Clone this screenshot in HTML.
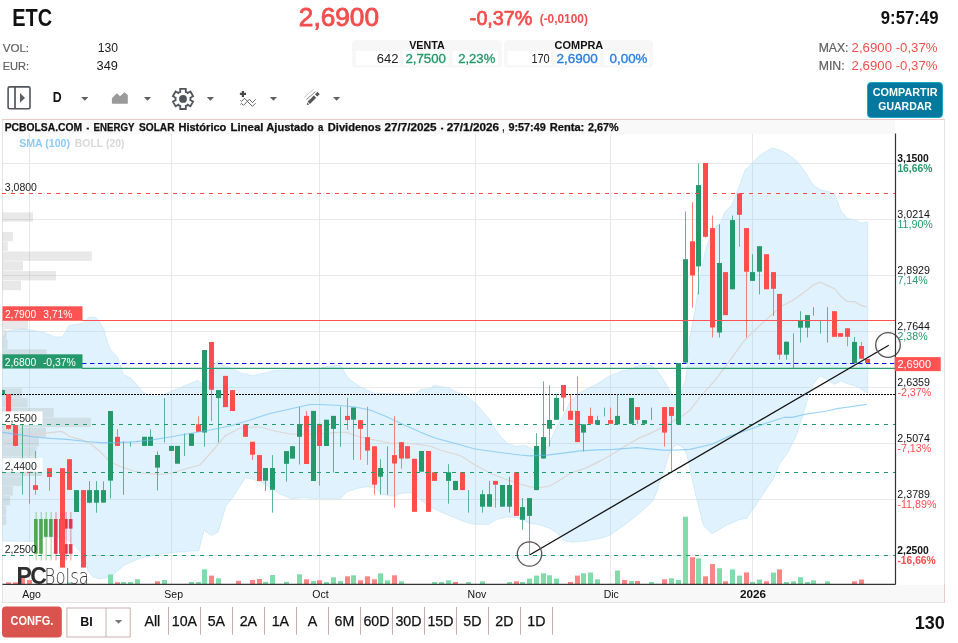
<!DOCTYPE html>
<html><head><meta charset="utf-8"><title>ETC - PCBOLSA</title>
<style>html,body{margin:0;padding:0;background:#fff;overflow:hidden;}svg{display:block;will-change:transform;}</style></head>
<body>
<svg width="958" height="643" viewBox="0 0 958 643">
<rect width="958" height="643" fill="#fff"/>
<text x="12.2" y="25.7" font-family="'Liberation Sans', Arial, sans-serif" font-size="23.2" font-weight="bold" fill="#111" textLength="39.9" lengthAdjust="spacingAndGlyphs">ETC</text>
<text x="298.8" y="25.8" font-family="'Liberation Sans', Arial, sans-serif" font-size="25" fill="#f44d4d" stroke="#f44d4d" stroke-width="0.8" textLength="80.2" lengthAdjust="spacingAndGlyphs">2,6900</text>
<text x="469.8" y="24.9" font-family="'Liberation Sans', Arial, sans-serif" font-size="21" fill="#f44d4d" stroke="#f44d4d" stroke-width="0.75" textLength="62.6" lengthAdjust="spacingAndGlyphs">-0,37%</text>
<text x="539.7" y="23.4" font-family="'Liberation Sans', Arial, sans-serif" font-size="12.3" font-weight="bold" fill="#f44d4d" textLength="48.2" lengthAdjust="spacingAndGlyphs">(-0,0100)</text>
<text x="938.5" y="23.8" font-family="'Liberation Sans', Arial, sans-serif" font-size="17.5" font-weight="bold" fill="#111" text-anchor="end" textLength="57.7" lengthAdjust="spacingAndGlyphs">9:57:49</text>
<text x="2.7" y="51.9" font-family="'Liberation Sans', Arial, sans-serif" font-size="11.8" fill="#5f5f5f" stroke="#5f5f5f" stroke-width="0.2" textLength="26.4" lengthAdjust="spacingAndGlyphs">VOL:</text>
<text x="97.7" y="51.9" font-family="'Liberation Sans', Arial, sans-serif" font-size="12" fill="#1a1a1a" textLength="20.3" lengthAdjust="spacingAndGlyphs">130</text>
<text x="2.7" y="69.9" font-family="'Liberation Sans', Arial, sans-serif" font-size="11.8" fill="#5f5f5f" stroke="#5f5f5f" stroke-width="0.2" textLength="26.4" lengthAdjust="spacingAndGlyphs">EUR:</text>
<text x="96.6" y="69.9" font-family="'Liberation Sans', Arial, sans-serif" font-size="12" fill="#1a1a1a" textLength="21.4" lengthAdjust="spacingAndGlyphs">349</text>
<text x="818.7" y="52" font-family="'Liberation Sans', Arial, sans-serif" font-size="12.6" fill="#5f5f5f" stroke="#5f5f5f" stroke-width="0.2" textLength="29.8" lengthAdjust="spacingAndGlyphs">MAX:</text>
<text x="851.6" y="52" font-family="'Liberation Sans', Arial, sans-serif" font-size="13" fill="#f44d4d" textLength="85.9" lengthAdjust="spacingAndGlyphs">2,6900 -0,37%</text>
<text x="818.7" y="70" font-family="'Liberation Sans', Arial, sans-serif" font-size="12.6" fill="#5f5f5f" stroke="#5f5f5f" stroke-width="0.2" textLength="25.9" lengthAdjust="spacingAndGlyphs">MIN:</text>
<text x="851.6" y="70" font-family="'Liberation Sans', Arial, sans-serif" font-size="13" fill="#f44d4d" textLength="85.9" lengthAdjust="spacingAndGlyphs">2,6900 -0,37%</text>
<rect x="352" y="40" width="150" height="27.6" rx="4" fill="#f7f7f7"/>
<text x="409.2" y="48.7" font-family="'Liberation Sans', Arial, sans-serif" font-size="10.5" font-weight="bold" fill="#111" textLength="35.5" lengthAdjust="spacingAndGlyphs">VENTA</text>
<rect x="355.9" y="51.2" width="44.2" height="13.8" fill="#fff"/>
<text x="376.7" y="63.4" font-family="'Liberation Sans', Arial, sans-serif" font-size="12.3" fill="#222" textLength="21.7" lengthAdjust="spacingAndGlyphs">642</text>
<rect x="403.1" y="51.2" width="45.4" height="13.8" fill="#fff"/>
<text x="405.4" y="63.4" font-family="'Liberation Sans', Arial, sans-serif" font-size="12.5" fill="#26996c" stroke="#26996c" stroke-width="0.35" textLength="40.6" lengthAdjust="spacingAndGlyphs">2,7500</text>
<rect x="452.7" y="51.2" width="45.1" height="13.8" fill="#fff"/>
<text x="458.2" y="63.4" font-family="'Liberation Sans', Arial, sans-serif" font-size="12.5" fill="#26996c" stroke="#26996c" stroke-width="0.35" textLength="37.1" lengthAdjust="spacingAndGlyphs">2,23%</text>
<rect x="504" y="40" width="149" height="27.6" rx="4" fill="#f7f7f7"/>
<text x="554.6" y="48.7" font-family="'Liberation Sans', Arial, sans-serif" font-size="10.5" font-weight="bold" fill="#111" textLength="48.7" lengthAdjust="spacingAndGlyphs">COMPRA</text>
<rect x="507.5" y="51.2" width="43.5" height="13.8" fill="#fff"/>
<text x="531.4" y="63.4" font-family="'Liberation Sans', Arial, sans-serif" font-size="12.3" fill="#222" textLength="18.3" lengthAdjust="spacingAndGlyphs">170</text>
<rect x="554.5" y="51.2" width="45.5" height="13.8" fill="#fff"/>
<text x="556.5" y="63.4" font-family="'Liberation Sans', Arial, sans-serif" font-size="12.5" fill="#2a7fe0" stroke="#2a7fe0" stroke-width="0.35" textLength="41.3" lengthAdjust="spacingAndGlyphs">2,6900</text>
<rect x="604.5" y="51.2" width="44.3" height="13.8" fill="#fff"/>
<text x="609.6" y="63.4" font-family="'Liberation Sans', Arial, sans-serif" font-size="12.5" fill="#2a7fe0" stroke="#2a7fe0" stroke-width="0.35" textLength="37.9" lengthAdjust="spacingAndGlyphs">0,00%</text>
<rect x="8.1" y="86.9" width="21.9" height="21.8" rx="1.5" fill="none" stroke="#51565d" stroke-width="1.6"/>
<line x1="15" y1="86.9" x2="15" y2="108.7" stroke="#51565d" stroke-width="1.7"/>
<polygon points="20,93 25,97.9 20,102.8" fill="#5a5f66"/>
<text x="52.7" y="101.9" font-family="'Liberation Sans', Arial, sans-serif" font-size="14.8" font-weight="bold" fill="#111" textLength="8.9" lengthAdjust="spacingAndGlyphs">D</text>
<polygon points="81.2,97 88.4,97 84.8,100.8" fill="#5f5f5f"/>
<polygon points="143.9,97 151.1,97 147.5,100.8" fill="#5f5f5f"/>
<polygon points="206.8,97 214.0,97 210.4,100.8" fill="#5f5f5f"/>
<polygon points="269.8,97 277.0,97 273.40000000000003,100.8" fill="#5f5f5f"/>
<polygon points="333,97 340.2,97 336.6,100.8" fill="#5f5f5f"/>
<polygon points="111.9,103.8 111.9,98.2 116.9,93.2 120,96.3 124.4,92.2 127.8,95 127.8,103.8" fill="#9a9a9a"/>
<polygon points="180.2,92.0 180.2,88.8 185.8,88.8 185.8,92.0 186.8,92.2 187.6,93.1 190.4,91.5 193.1,96.2 190.3,97.8 190.7,98.9 190.3,100.0 193.1,101.6 190.4,106.3 187.6,104.7 186.8,105.6 185.8,105.8 185.8,109.0 180.2,109.0 180.2,105.8 179.2,105.6 178.4,104.7 175.6,106.3 172.9,101.6 175.7,100.0 175.3,98.9 175.7,97.8 172.9,96.2 175.6,91.5 178.4,93.1 179.2,92.2" fill="none" stroke="#51565d" stroke-width="1.8" stroke-linejoin="miter"/>
<circle cx="183" cy="98.9" r="3.9" fill="#51565d"/>
<path d="M242.9,90.9 V97 M239.9,93.9 H246" stroke="#4a4a4a" stroke-width="2.2"/>
<polyline points="240.4,100.4 241.5,101.4 244.5,98.3 252.4,106.4 255.6,103.2" fill="none" stroke="#555" stroke-width="0.9"/>
<polyline points="240.4,104.4 241.5,103.4 243.5,105.4 249.4,99.2 252.4,102.6 255.6,99.3" fill="none" stroke="#555" stroke-width="0.9"/>
<line x1="308.8" y1="102.8" x2="315" y2="96.6" stroke="#555" stroke-width="3.3"/>
<line x1="316.2" y1="95.4" x2="318.6" y2="93" stroke="#555" stroke-width="3.3"/>
<polygon points="306.9,104.9 307.1,102.6 309.2,104.5" fill="#555"/>
<line x1="306.4" y1="99.6" x2="315.6" y2="91.4" stroke="#888" stroke-width="1"/>
<line x1="304.1" y1="97.5" x2="313.6" y2="89.3" stroke="#c8c8c8" stroke-width="1"/>
<rect x="867.5" y="82.5" width="75" height="35" rx="3.5" fill="#05789f" stroke="#1aa6cb" stroke-width="1"/>
<text x="905.1" y="96" font-family="'Liberation Sans', Arial, sans-serif" font-size="11" font-weight="bold" fill="#fff" text-anchor="middle" textLength="64.8" lengthAdjust="spacingAndGlyphs">COMPARTIR</text>
<text x="905.1" y="109.8" font-family="'Liberation Sans', Arial, sans-serif" font-size="11" font-weight="bold" fill="#fff" text-anchor="middle" textLength="53.6" lengthAdjust="spacingAndGlyphs">GUARDAR</text>
<rect x="2" y="606.4" width="59.8" height="31.2" rx="4" fill="#d9534f"/>
<text x="31.9" y="625" font-family="'Liberation Sans', Arial, sans-serif" font-size="12" font-weight="bold" fill="#fff" text-anchor="middle" textLength="42.7" lengthAdjust="spacingAndGlyphs">CONFG.</text>
<rect x="66.9" y="608" width="63.3" height="29" fill="#fff" stroke="#c9b0b0" stroke-width="1"/>
<line x1="106" y1="608" x2="106" y2="637" stroke="#c9b0b0" stroke-width="1"/>
<text x="86.4" y="625.9" font-family="'Liberation Sans', Arial, sans-serif" font-size="12.5" font-weight="bold" fill="#111" text-anchor="middle">BI</text>
<polygon points="114.9,620 122.2,620 118.55,623.7" fill="#777"/>
<text x="152.4" y="625.9" font-family="'Liberation Sans', Arial, sans-serif" font-size="14.2" fill="#111" stroke="#111" stroke-width="0.25" text-anchor="middle">All</text>
<line x1="168.5" y1="607" x2="168.5" y2="634.7" stroke="#c9adad" stroke-width="1"/>
<text x="184.4" y="625.9" font-family="'Liberation Sans', Arial, sans-serif" font-size="14.2" fill="#111" stroke="#111" stroke-width="0.25" text-anchor="middle">10A</text>
<line x1="200.5" y1="607" x2="200.5" y2="634.7" stroke="#c9adad" stroke-width="1"/>
<text x="216.4" y="625.9" font-family="'Liberation Sans', Arial, sans-serif" font-size="14.2" fill="#111" stroke="#111" stroke-width="0.25" text-anchor="middle">5A</text>
<line x1="232.5" y1="607" x2="232.5" y2="634.7" stroke="#c9adad" stroke-width="1"/>
<text x="248.4" y="625.9" font-family="'Liberation Sans', Arial, sans-serif" font-size="14.2" fill="#111" stroke="#111" stroke-width="0.25" text-anchor="middle">2A</text>
<line x1="264.5" y1="607" x2="264.5" y2="634.7" stroke="#c9adad" stroke-width="1"/>
<text x="280.4" y="625.9" font-family="'Liberation Sans', Arial, sans-serif" font-size="14.2" fill="#111" stroke="#111" stroke-width="0.25" text-anchor="middle">1A</text>
<line x1="296.5" y1="607" x2="296.5" y2="634.7" stroke="#c9adad" stroke-width="1"/>
<text x="312.4" y="625.9" font-family="'Liberation Sans', Arial, sans-serif" font-size="14.2" fill="#111" stroke="#111" stroke-width="0.25" text-anchor="middle">A</text>
<line x1="328.5" y1="607" x2="328.5" y2="634.7" stroke="#c9adad" stroke-width="1"/>
<text x="344.4" y="625.9" font-family="'Liberation Sans', Arial, sans-serif" font-size="14.2" fill="#111" stroke="#111" stroke-width="0.25" text-anchor="middle">6M</text>
<line x1="360.5" y1="607" x2="360.5" y2="634.7" stroke="#c9adad" stroke-width="1"/>
<text x="376.4" y="625.9" font-family="'Liberation Sans', Arial, sans-serif" font-size="14.2" fill="#111" stroke="#111" stroke-width="0.25" text-anchor="middle">60D</text>
<line x1="392.5" y1="607" x2="392.5" y2="634.7" stroke="#c9adad" stroke-width="1"/>
<text x="408.4" y="625.9" font-family="'Liberation Sans', Arial, sans-serif" font-size="14.2" fill="#111" stroke="#111" stroke-width="0.25" text-anchor="middle">30D</text>
<line x1="424.5" y1="607" x2="424.5" y2="634.7" stroke="#c9adad" stroke-width="1"/>
<text x="440.4" y="625.9" font-family="'Liberation Sans', Arial, sans-serif" font-size="14.2" fill="#111" stroke="#111" stroke-width="0.25" text-anchor="middle">15D</text>
<line x1="456.5" y1="607" x2="456.5" y2="634.7" stroke="#c9adad" stroke-width="1"/>
<text x="472.4" y="625.9" font-family="'Liberation Sans', Arial, sans-serif" font-size="14.2" fill="#111" stroke="#111" stroke-width="0.25" text-anchor="middle">5D</text>
<line x1="488.5" y1="607" x2="488.5" y2="634.7" stroke="#c9adad" stroke-width="1"/>
<text x="504.4" y="625.9" font-family="'Liberation Sans', Arial, sans-serif" font-size="14.2" fill="#111" stroke="#111" stroke-width="0.25" text-anchor="middle">2D</text>
<line x1="520.5" y1="607" x2="520.5" y2="634.7" stroke="#c9adad" stroke-width="1"/>
<text x="536.4" y="625.9" font-family="'Liberation Sans', Arial, sans-serif" font-size="14.2" fill="#111" stroke="#111" stroke-width="0.25" text-anchor="middle">1D</text>
<line x1="552.5" y1="607" x2="552.5" y2="634.7" stroke="#c9adad" stroke-width="1"/>
<text x="944.7" y="629" font-family="'Liberation Sans', Arial, sans-serif" font-size="18" font-weight="bold" fill="#111" text-anchor="end">130</text>
<rect x="2.5" y="119.5" width="942" height="483" fill="#fff" stroke="#e3e3e3" stroke-width="1"/>
<path d="M2.5,134 V119.5 H944.5 M2.5,584.5 V602.5 M944.5,584.5 V602.5" fill="none" stroke="#ecc9c9" stroke-width="1"/>
<rect x="2.5" y="120" width="892.5" height="14" fill="#f9f9f9"/>
<rect x="2.5" y="585" width="941.5" height="17" fill="#f8f8f8"/>
<line x1="2.5" y1="163.5" x2="895" y2="163.5" stroke="#e8e8e8" stroke-width="1"/>
<line x1="2.5" y1="219.5" x2="895" y2="219.5" stroke="#e8e8e8" stroke-width="1"/>
<line x1="2.5" y1="275.5" x2="895" y2="275.5" stroke="#e8e8e8" stroke-width="1"/>
<line x1="2.5" y1="331.5" x2="895" y2="331.5" stroke="#e8e8e8" stroke-width="1"/>
<line x1="2.5" y1="387.5" x2="895" y2="387.5" stroke="#e8e8e8" stroke-width="1"/>
<line x1="2.5" y1="443.5" x2="895" y2="443.5" stroke="#e8e8e8" stroke-width="1"/>
<line x1="2.5" y1="499.5" x2="895" y2="499.5" stroke="#e8e8e8" stroke-width="1"/>
<line x1="2.5" y1="555.5" x2="895" y2="555.5" stroke="#e8e8e8" stroke-width="1"/>
<line x1="29.5" y1="134" x2="29.5" y2="584" stroke="#e8e8e8" stroke-width="1"/>
<line x1="171.5" y1="134" x2="171.5" y2="584" stroke="#e8e8e8" stroke-width="1"/>
<line x1="319.5" y1="134" x2="319.5" y2="584" stroke="#e8e8e8" stroke-width="1"/>
<line x1="475.5" y1="134" x2="475.5" y2="584" stroke="#e8e8e8" stroke-width="1"/>
<line x1="610.5" y1="134" x2="610.5" y2="584" stroke="#e8e8e8" stroke-width="1"/>
<line x1="752.5" y1="134" x2="752.5" y2="584" stroke="#e8e8e8" stroke-width="1"/>
<polygon points="2.5,339.0 6.9,331.3 12.5,330.1 22.6,329.1 35.1,330.7 43.9,332.6 55.1,337.0 62.7,337.0 68.9,325.7 75.2,324.4 83.3,323.5 89.0,316.9 95.9,317.5 99.0,321.3 104.0,328.8 105.1,335.0 110.2,349.6 117.5,356.9 123.4,374.5 130.7,378.1 136.5,384.7 143.9,392.7 149.7,395.7 157.0,396.4 164.3,394.2 171.6,391.3 181.9,386.9 198.0,380.3 202.3,384.7 209.0,372.0 213.0,365.2 218.4,360.6 224.3,365.7 230.6,367.7 241.7,373.4 252.6,375.6 263.4,373.4 274.3,370.7 301.4,369.3 320.4,368.0 330.0,366.0 339.9,365.4 342.5,368.6 345.7,374.8 350.9,380.6 361.3,387.4 373.8,393.1 387.4,393.8 403.1,394.1 415.6,393.8 420.8,389.4 429.9,388.6 434.1,385.4 439.8,386.5 449.2,388.0 455.5,391.7 463.8,394.3 470.1,399.0 476.4,404.2 482.6,411.5 489.3,419.1 495.6,430.0 501.8,437.8 508.0,444.0 515.8,446.3 525.1,445.5 531.3,448.6 534.4,451.8 541.0,450.0 548.4,446.3 553.1,434.6 557.8,425.3 564.0,414.4 570.2,402.0 579.5,392.7 588.9,388.0 598.2,383.3 607.5,377.1 616.5,373.2 624.1,370.5 631.8,369.2 637.2,366.1 642.6,365.2 650.3,365.6 655.7,368.8 660.1,374.8 664.4,381.3 668.8,389.0 672.0,394.4 675.3,396.6 678.5,395.0 681.8,390.1 685.1,381.3 686.7,372.6 687.5,361.8 688.3,350.9 689.4,340.0 695.1,310.1 700.1,276.7 705.1,251.7 707.0,245.0 713.5,228.5 720.1,223.5 725.1,211.8 731.8,205.1 738.5,188.4 745.2,170.0 751.9,163.4 760.2,155.0 771.9,148.0 780.0,150.3 787.5,154.0 794.9,159.6 800.5,165.2 806.1,173.6 813.6,185.7 821.1,190.0 829.5,191.9 834.1,194.1 836.9,199.7 840.7,210.9 847.2,218.4 854.7,219.9 861.2,223.1 867.7,222.1 867.8,393.1 864.4,391.4 859.3,387.6 854.1,385.4 847.3,383.6 840.5,380.7 834.5,384.2 830.2,381.9 825.0,378.5 820.8,375.9 816.5,379.4 813.1,384.5 810.5,391.4 807.9,398.2 802.8,415.3 796.0,435.9 789.1,450.0 786.7,454.0 779.2,464.3 773.6,478.3 766.1,489.5 758.7,500.7 753.1,509.1 746.5,518.4 740.0,519.3 725.9,525.5 712.0,533.8 703.5,525.5 695.0,491.9 689.5,466.7 687.0,455.1 683.6,448.4 677.8,444.3 673.6,446.8 668.6,455.1 663.6,472.5 660.2,480.0 656.9,491.7 653.5,500.0 646.9,506.7 635.2,516.7 621.8,526.8 610.1,535.1 600.1,538.4 585.1,541.0 571.7,542.1 563.4,540.1 556.7,532.6 550.0,528.4 538.3,524.3 530.0,523.4 516.9,517.6 506.8,516.8 496.8,519.3 488.5,524.3 475.1,524.3 466.8,522.6 450.1,515.9 433.4,508.4 421.7,500.9 416.7,495.9 410.0,492.5 400.3,493.4 395.2,495.9 390.2,495.9 381.9,494.2 375.2,487.5 366.9,486.7 356.8,488.4 346.8,491.7 340.2,498.7 316.8,498.7 305.0,497.5 291.7,498.7 280.0,494.1 267.1,485.6 259.3,481.7 253.1,479.0 245.3,477.8 231.3,499.5 225.9,505.8 218.1,532.2 211.1,535.3 204.1,530.0 198.7,550.6 190.0,551.0 173.7,552.4 157.4,554.6 141.1,557.8 124.8,564.6 114.0,574.1 106.0,577.9 99.6,578.7 92.9,577.0 87.8,570.3 86.2,562.0 81.1,552.7 75.0,546.0 66.0,538.4 53.0,536.8 43.0,537.2 33.0,541.3 2.5,541.0" fill="rgb(131,203,247)" fill-opacity="0.25" stroke="#cce6f8" stroke-width="0.8"/>
<rect x="2.5" y="212.4" width="30.5" height="9.3" fill="rgba(150,150,150,0.22)"/>
<rect x="2.5" y="232.0" width="10.4" height="9.3" fill="rgba(150,150,150,0.22)"/>
<rect x="2.5" y="241.7" width="5.3" height="9.3" fill="rgba(150,150,150,0.22)"/>
<rect x="2.5" y="251.5" width="89.3" height="9.3" fill="rgba(150,150,150,0.22)"/>
<rect x="2.5" y="261.3" width="20.5" height="9.3" fill="rgba(150,150,150,0.22)"/>
<rect x="2.5" y="271.1" width="53.5" height="9.3" fill="rgba(150,150,150,0.22)"/>
<rect x="2.5" y="280.9" width="18.5" height="9.3" fill="rgba(150,150,150,0.22)"/>
<rect x="2.5" y="320.0" width="25.5" height="9.3" fill="rgba(150,150,150,0.22)"/>
<rect x="2.5" y="329.8" width="4.0" height="9.3" fill="rgba(150,150,150,0.22)"/>
<rect x="2.5" y="339.5" width="5.0" height="9.3" fill="rgba(150,150,150,0.22)"/>
<rect x="2.5" y="349.3" width="44.1" height="9.3" fill="rgba(150,150,150,0.22)"/>
<rect x="2.5" y="359.1" width="44.1" height="9.3" fill="rgba(150,150,150,0.22)"/>
<rect x="2.5" y="388.4" width="19.3" height="9.3" fill="rgba(150,150,150,0.22)"/>
<rect x="2.5" y="398.2" width="25.2" height="9.3" fill="rgba(150,150,150,0.22)"/>
<rect x="2.5" y="408.0" width="51.2" height="9.3" fill="rgba(150,150,150,0.22)"/>
<rect x="2.5" y="417.8" width="88.5" height="9.3" fill="rgba(150,150,150,0.22)"/>
<rect x="2.5" y="427.6" width="43.4" height="9.3" fill="rgba(150,150,150,0.22)"/>
<rect x="2.5" y="437.3" width="36.4" height="9.3" fill="rgba(150,150,150,0.22)"/>
<rect x="2.5" y="447.1" width="34.0" height="9.3" fill="rgba(150,150,150,0.22)"/>
<rect x="2.5" y="456.9" width="34.0" height="9.3" fill="rgba(150,150,150,0.22)"/>
<rect x="2.5" y="466.7" width="39.5" height="9.3" fill="rgba(150,150,150,0.22)"/>
<rect x="2.5" y="476.5" width="19.3" height="9.3" fill="rgba(150,150,150,0.22)"/>
<rect x="2.5" y="486.2" width="10.3" height="9.3" fill="rgba(150,150,150,0.22)"/>
<rect x="2.5" y="496.0" width="7.6" height="9.3" fill="rgba(150,150,150,0.22)"/>
<rect x="2.5" y="505.8" width="3.7" height="9.3" fill="rgba(150,150,150,0.22)"/>
<rect x="2.5" y="515.6" width="3.7" height="9.3" fill="rgba(150,150,150,0.22)"/>
<polyline points="2.5,444.0 16.7,437.1 33.4,434.3 50.1,432.6 61.8,431.4 70.1,436.8 80.1,439.3 90.2,443.5 100.2,451.8 110.2,461.8 120.2,466.5 133.6,471.0 145.3,473.5 160.0,474.3 170.0,473.5 185.0,469.0 200.0,465.0 215.0,448.0 225.0,436.0 240.0,428.0 260.0,427.0 270.0,430.0 290.0,434.0 310.0,434.5 330.0,433.0 345.0,432.0 360.0,437.0 375.0,440.0 390.0,443.0 410.0,443.5 430.0,446.0 440.0,450.0 455.0,454.0 462.0,456.5 475.0,465.0 490.0,473.0 505.0,479.0 520.0,484.0 530.0,486.8 540.0,487.6 550.0,486.0 560.0,480.1 570.1,473.5 586.8,467.6 600.1,460.9 613.5,453.4 626.8,445.1 638.5,438.4 650.2,433.4 660.2,428.4 671.9,421.7 683.6,415.0 690.0,410.0 701.8,395.1 715.1,380.1 730.2,360.1 744.0,341.0 755.0,330.0 766.6,319.4 781.4,306.1 791.7,301.0 803.5,292.8 813.8,284.7 820.5,282.2 827.1,285.4 834.5,288.7 840.4,295.8 847.1,301.4 854.5,301.7 861.1,305.4 867.0,307.3" fill="none" stroke="#ddd6d4" stroke-width="1.2"/>
<rect x="6" y="582.3" width="5" height="1.7" fill="#fa8585"/>
<rect x="13" y="582.3" width="5" height="1.7" fill="#fa8585"/>
<rect x="20" y="577.5" width="5" height="6.5" fill="#fa8585"/>
<rect x="27" y="580.0" width="5" height="4.0" fill="#fa8585"/>
<rect x="67" y="582.5" width="5" height="1.5" fill="#80dcab"/>
<rect x="108" y="574.5" width="5" height="9.5" fill="#80dcab"/>
<rect x="115" y="582.3" width="5" height="1.7" fill="#fa8585"/>
<rect x="121" y="582.0" width="5" height="2.0" fill="#80dcab"/>
<rect x="128" y="582.0" width="5" height="2.0" fill="#80dcab"/>
<rect x="135" y="579.3" width="5" height="4.7" fill="#80dcab"/>
<rect x="155" y="581.3" width="5" height="2.7" fill="#fa8585"/>
<rect x="162" y="580.0" width="5" height="4.0" fill="#80dcab"/>
<rect x="189" y="582.0" width="5" height="2.0" fill="#80dcab"/>
<rect x="196" y="582.0" width="5" height="2.0" fill="#80dcab"/>
<rect x="202" y="569.3" width="5" height="14.7" fill="#80dcab"/>
<rect x="209" y="575.6" width="5" height="8.4" fill="#fa8585"/>
<rect x="216" y="578.3" width="5" height="5.7" fill="#80dcab"/>
<rect x="236" y="580.8" width="5" height="3.2" fill="#fa8585"/>
<rect x="250" y="580.0" width="5" height="4.0" fill="#fa8585"/>
<rect x="257" y="579.0" width="5" height="5.0" fill="#fa8585"/>
<rect x="263" y="581.8" width="5" height="2.2" fill="#80dcab"/>
<rect x="270" y="575.0" width="5" height="9.0" fill="#80dcab"/>
<rect x="284" y="581.8" width="5" height="2.2" fill="#80dcab"/>
<rect x="297" y="574.3" width="5" height="9.7" fill="#80dcab"/>
<rect x="304" y="579.3" width="5" height="4.7" fill="#fa8585"/>
<rect x="311" y="581.0" width="5" height="3.0" fill="#80dcab"/>
<rect x="317" y="580.3" width="5" height="3.7" fill="#fa8585"/>
<rect x="324" y="582.0" width="5" height="2.0" fill="#80dcab"/>
<rect x="331" y="577.3" width="5" height="6.7" fill="#80dcab"/>
<rect x="338" y="581.0" width="5" height="3.0" fill="#80dcab"/>
<rect x="345" y="576.3" width="5" height="7.7" fill="#fa8585"/>
<rect x="351" y="575.3" width="5" height="8.7" fill="#80dcab"/>
<rect x="358" y="580.3" width="5" height="3.7" fill="#fa8585"/>
<rect x="365" y="576.3" width="5" height="7.7" fill="#fa8585"/>
<rect x="372" y="579.3" width="5" height="4.7" fill="#fa8585"/>
<rect x="378" y="573.3" width="5" height="10.7" fill="#80dcab"/>
<rect x="385" y="580.3" width="5" height="3.7" fill="#80dcab"/>
<rect x="392" y="575.3" width="5" height="8.7" fill="#fa8585"/>
<rect x="399" y="581.3" width="5" height="2.7" fill="#80dcab"/>
<rect x="432" y="582.0" width="5" height="2.0" fill="#80dcab"/>
<rect x="439" y="582.0" width="5" height="2.0" fill="#80dcab"/>
<rect x="446" y="580.3" width="5" height="3.7" fill="#80dcab"/>
<rect x="453" y="582.0" width="5" height="2.0" fill="#fa8585"/>
<rect x="466" y="582.0" width="5" height="2.0" fill="#80dcab"/>
<rect x="480" y="581.3" width="5" height="2.7" fill="#80dcab"/>
<rect x="507" y="582.0" width="5" height="2.0" fill="#80dcab"/>
<rect x="514" y="581.3" width="5" height="2.7" fill="#fa8585"/>
<rect x="520" y="582.0" width="5" height="2.0" fill="#80dcab"/>
<rect x="527" y="578.6" width="5" height="5.4" fill="#80dcab"/>
<rect x="534" y="575.6" width="5" height="8.4" fill="#80dcab"/>
<rect x="541" y="573.3" width="5" height="10.7" fill="#80dcab"/>
<rect x="547" y="575.3" width="5" height="8.7" fill="#80dcab"/>
<rect x="554" y="578.6" width="5" height="5.4" fill="#80dcab"/>
<rect x="568" y="582.0" width="5" height="2.0" fill="#fa8585"/>
<rect x="575" y="575.6" width="5" height="8.4" fill="#fa8585"/>
<rect x="581" y="573.3" width="5" height="10.7" fill="#80dcab"/>
<rect x="588" y="572.5" width="5" height="11.5" fill="#80dcab"/>
<rect x="595" y="579.3" width="5" height="4.7" fill="#80dcab"/>
<rect x="615" y="570.5" width="5" height="13.5" fill="#80dcab"/>
<rect x="622" y="580.0" width="5" height="4.0" fill="#fa8585"/>
<rect x="629" y="581.0" width="5" height="3.0" fill="#80dcab"/>
<rect x="635" y="581.0" width="5" height="3.0" fill="#fa8585"/>
<rect x="649" y="582.0" width="5" height="2.0" fill="#80dcab"/>
<rect x="662" y="579.3" width="5" height="4.7" fill="#fa8585"/>
<rect x="669" y="578.3" width="5" height="5.7" fill="#80dcab"/>
<rect x="676" y="580.0" width="5" height="4.0" fill="#80dcab"/>
<rect x="683" y="516.7" width="5" height="67.3" fill="#80dcab"/>
<rect x="690" y="557.2" width="5" height="26.8" fill="#fa8585"/>
<rect x="696" y="558.4" width="5" height="25.6" fill="#80dcab"/>
<rect x="703" y="576.3" width="5" height="7.7" fill="#fa8585"/>
<rect x="710" y="564.1" width="5" height="19.9" fill="#fa8585"/>
<rect x="717" y="568.2" width="5" height="15.8" fill="#80dcab"/>
<rect x="723" y="581.3" width="5" height="2.7" fill="#fa8585"/>
<rect x="730" y="569.4" width="5" height="14.6" fill="#80dcab"/>
<rect x="737" y="575.6" width="5" height="8.4" fill="#80dcab"/>
<rect x="744" y="572.4" width="5" height="11.6" fill="#fa8585"/>
<rect x="750" y="582.0" width="5" height="2.0" fill="#80dcab"/>
<rect x="757" y="579.5" width="5" height="4.5" fill="#80dcab"/>
<rect x="764" y="581.3" width="5" height="2.7" fill="#fa8585"/>
<rect x="771" y="572.6" width="5" height="11.4" fill="#80dcab"/>
<rect x="777" y="569.4" width="5" height="14.6" fill="#fa8585"/>
<rect x="784" y="582.0" width="5" height="2.0" fill="#80dcab"/>
<rect x="791" y="581.3" width="5" height="2.7" fill="#80dcab"/>
<rect x="798" y="577.2" width="5" height="6.8" fill="#80dcab"/>
<rect x="805" y="582.0" width="5" height="2.0" fill="#80dcab"/>
<rect x="811" y="580.4" width="5" height="3.6" fill="#80dcab"/>
<rect x="825" y="581.3" width="5" height="2.7" fill="#80dcab"/>
<rect x="852" y="581.3" width="5" height="2.7" fill="#fa8585"/>
<rect x="859" y="579.5" width="5" height="4.5" fill="#fa8585"/>
<line x1="82" y1="363.5" x2="895" y2="363.5" stroke="#0808f8" stroke-width="1.15" stroke-dasharray="4.5 3.5"/>
<line x1="2" y1="394.5" x2="895" y2="394.5" stroke="#000" stroke-width="1.2" stroke-dasharray="2 1"/>
<rect x="2.5" y="542" width="40" height="13.6" fill="#fff"/>
<rect x="35.7" y="512" width="0.8" height="48.4" fill="#3a9d3a" opacity="0.6"/>
<rect x="34.0" y="519" width="3.7" height="34.8" fill="#3a9d3a" opacity="0.85"/>
<rect x="40.8" y="512" width="0.8" height="48.4" fill="#3a9d3a" opacity="0.6"/>
<rect x="39.1" y="519" width="3.7" height="34.8" fill="#3a9d3a" opacity="0.85"/>
<rect x="45.7" y="512" width="0.8" height="48.4" fill="#3a9d3a" opacity="0.6"/>
<rect x="44.0" y="519" width="3.7" height="17.8" fill="#3a9d3a" opacity="0.85"/>
<rect x="50.7" y="512" width="0.8" height="48.4" fill="#3a9d3a" opacity="0.6"/>
<rect x="49.0" y="519" width="3.7" height="17.8" fill="#3a9d3a" opacity="0.85"/>
<rect x="55.6" y="512" width="0.8" height="48.4" fill="#dc1f3c" opacity="0.6"/>
<rect x="53.9" y="519" width="3.7" height="34.8" fill="#dc1f3c" opacity="0.85"/>
<rect x="60.8" y="512" width="0.8" height="48.4" fill="#dc1f3c" opacity="0.6"/>
<rect x="59.1" y="519" width="3.7" height="34.8" fill="#dc1f3c" opacity="0.85"/>
<rect x="65.7" y="512" width="0.8" height="48.4" fill="#dc1f3c" opacity="0.6"/>
<rect x="64.0" y="519" width="3.7" height="9.6" fill="#dc1f3c" opacity="0.85"/>
<rect x="64.0" y="544.1" width="3.7" height="9.7" fill="#dc1f3c" opacity="0.85"/>
<rect x="70.5" y="512" width="0.8" height="48.4" fill="#dc1f3c" opacity="0.6"/>
<rect x="68.8" y="519" width="3.7" height="9.6" fill="#dc1f3c" opacity="0.85"/>
<rect x="68.8" y="544.1" width="3.7" height="9.7" fill="#dc1f3c" opacity="0.85"/>
<text x="16.5" y="583.5" font-family="'Liberation Sans', Arial, sans-serif" font-size="23" font-weight="bold" fill="#2e2e2e" letter-spacing="-1.5">PC</text>
<text x="44.5" y="583.5" font-family="DejaVu Sans, sans-serif" font-size="22" font-weight="200" fill="#3a3a3a" textLength="44.5" lengthAdjust="spacingAndGlyphs">Bolsa</text>
<rect x="2" y="390.0" width="1" height="4.2" fill="#26996c" fill-opacity="0.72"/>
<rect x="2.5" y="390.0" width="2.5" height="4.2" fill="#26996c"/>
<rect x="8" y="394.2" width="1" height="35.3" fill="#ff4d4d" fill-opacity="0.72"/>
<rect x="6" y="394.2" width="5" height="34.6" fill="#ff4d4d"/>
<rect x="15" y="425.1" width="1" height="21.2" fill="#ff4d4d" fill-opacity="0.72"/>
<rect x="13" y="425.1" width="5" height="20.9" fill="#ff4d4d"/>
<rect x="22" y="420.0" width="1" height="74.5" fill="#26996c" fill-opacity="0.72"/>
<rect x="20" y="420.0" width="5" height="4.0" fill="#26996c"/>
<rect x="29" y="466.0" width="1" height="37.7" fill="#ff4d4d" fill-opacity="0.72"/>
<rect x="27" y="466.0" width="5" height="7.0" fill="#ff4d4d"/>
<rect x="35" y="451.0" width="1" height="43.8" fill="#ff4d4d" fill-opacity="0.72"/>
<rect x="33" y="485.1" width="5" height="4.8" fill="#ff4d4d"/>
<rect x="49" y="468.2" width="1" height="22.5" fill="#ff4d4d" fill-opacity="0.72"/>
<rect x="47" y="468.2" width="5" height="8.8" fill="#ff4d4d"/>
<rect x="62" y="468.2" width="1" height="99.3" fill="#ff4d4d" fill-opacity="0.72"/>
<rect x="60" y="468.2" width="5" height="99.3" fill="#ff4d4d"/>
<rect x="69" y="459.2" width="1" height="30.7" fill="#ff4d4d" fill-opacity="0.72"/>
<rect x="67" y="459.2" width="5" height="30.7" fill="#ff4d4d"/>
<rect x="76" y="490.1" width="1" height="21.9" fill="#26996c" fill-opacity="0.72"/>
<rect x="74" y="490.1" width="5" height="21.9" fill="#26996c"/>
<rect x="83" y="490.1" width="1" height="77.4" fill="#ff4d4d" fill-opacity="0.72"/>
<rect x="81" y="490.1" width="5" height="77.4" fill="#ff4d4d"/>
<rect x="89" y="481.1" width="1" height="22.2" fill="#26996c" fill-opacity="0.72"/>
<rect x="87" y="490.1" width="5" height="12.6" fill="#26996c"/>
<rect x="96" y="481.1" width="1" height="31.6" fill="#26996c" fill-opacity="0.72"/>
<rect x="94" y="490.1" width="5" height="12.6" fill="#26996c"/>
<rect x="103" y="481.4" width="1" height="21.2" fill="#26996c" fill-opacity="0.72"/>
<rect x="101" y="490.1" width="5" height="12.5" fill="#26996c"/>
<rect x="110" y="411.0" width="1" height="87.5" fill="#26996c" fill-opacity="0.72"/>
<rect x="108" y="411.0" width="5" height="69.6" fill="#26996c"/>
<rect x="117" y="429.2" width="1" height="16.7" fill="#ff4d4d" fill-opacity="0.72"/>
<rect x="115" y="436.8" width="5" height="9.1" fill="#ff4d4d"/>
<rect x="123" y="441.2" width="1" height="53.6" fill="#26996c" fill-opacity="0.72"/>
<rect x="130" y="441.7" width="1" height="5.0" fill="#26996c" fill-opacity="0.72"/>
<rect x="137" y="441.0" width="1" height="1.0" fill="#26996c" fill-opacity="0.72"/>
<rect x="144" y="436.8" width="1" height="9.1" fill="#26996c" fill-opacity="0.72"/>
<rect x="142" y="436.8" width="5" height="9.1" fill="#26996c"/>
<rect x="150" y="429.3" width="1" height="16.6" fill="#26996c" fill-opacity="0.72"/>
<rect x="148" y="436.8" width="5" height="9.1" fill="#26996c"/>
<rect x="157" y="451.4" width="1" height="39.0" fill="#26996c" fill-opacity="0.72"/>
<rect x="155" y="455.0" width="5" height="12.6" fill="#26996c"/>
<rect x="164" y="398.0" width="1" height="44.5" fill="#26996c" fill-opacity="0.72"/>
<rect x="171" y="445.9" width="1" height="5.0" fill="#26996c" fill-opacity="0.72"/>
<rect x="169" y="445.9" width="5" height="5.0" fill="#26996c"/>
<rect x="177" y="445.9" width="1" height="17.8" fill="#26996c" fill-opacity="0.72"/>
<rect x="175" y="445.9" width="5" height="17.8" fill="#26996c"/>
<rect x="184" y="433.5" width="1" height="22.4" fill="#26996c" fill-opacity="0.72"/>
<rect x="191" y="433.5" width="1" height="12.4" fill="#26996c" fill-opacity="0.72"/>
<rect x="189" y="433.5" width="5" height="12.4" fill="#26996c"/>
<rect x="198" y="416.3" width="1" height="15.5" fill="#ff4d4d" fill-opacity="0.72"/>
<rect x="196" y="424.3" width="5" height="7.5" fill="#ff4d4d"/>
<rect x="204" y="350.0" width="1" height="96.7" fill="#26996c" fill-opacity="0.72"/>
<rect x="202" y="350.0" width="5" height="82.5" fill="#26996c"/>
<rect x="211" y="342.0" width="1" height="79.0" fill="#ff4d4d" fill-opacity="0.72"/>
<rect x="209" y="342.0" width="5" height="47.8" fill="#ff4d4d"/>
<rect x="218" y="390.1" width="1" height="52.4" fill="#26996c" fill-opacity="0.72"/>
<rect x="216" y="390.1" width="5" height="8.0" fill="#26996c"/>
<rect x="225" y="375.9" width="1" height="31.2" fill="#ff4d4d" fill-opacity="0.72"/>
<rect x="223" y="375.9" width="5" height="31.2" fill="#ff4d4d"/>
<rect x="232" y="390.1" width="1" height="20.9" fill="#ff4d4d" fill-opacity="0.72"/>
<rect x="230" y="390.1" width="5" height="20.9" fill="#ff4d4d"/>
<rect x="245" y="424.3" width="1" height="12.5" fill="#ff4d4d" fill-opacity="0.72"/>
<rect x="243" y="424.3" width="5" height="12.5" fill="#ff4d4d"/>
<rect x="252" y="441.8" width="1" height="18.2" fill="#ff4d4d" fill-opacity="0.72"/>
<rect x="250" y="441.8" width="5" height="12.9" fill="#ff4d4d"/>
<rect x="259" y="455.1" width="1" height="25.9" fill="#ff4d4d" fill-opacity="0.72"/>
<rect x="257" y="455.1" width="5" height="25.9" fill="#ff4d4d"/>
<rect x="265" y="468.0" width="1" height="22.9" fill="#26996c" fill-opacity="0.72"/>
<rect x="263" y="468.0" width="5" height="12.7" fill="#26996c"/>
<rect x="272" y="455.1" width="1" height="57.5" fill="#26996c" fill-opacity="0.72"/>
<rect x="270" y="468.0" width="5" height="21.8" fill="#26996c"/>
<rect x="286" y="451.1" width="1" height="30.6" fill="#26996c" fill-opacity="0.72"/>
<rect x="284" y="451.1" width="5" height="12.7" fill="#26996c"/>
<rect x="292" y="446.2" width="1" height="12.4" fill="#26996c" fill-opacity="0.72"/>
<rect x="290" y="446.2" width="5" height="12.4" fill="#26996c"/>
<rect x="299" y="406.8" width="1" height="57.7" fill="#26996c" fill-opacity="0.72"/>
<rect x="297" y="424.0" width="5" height="12.8" fill="#26996c"/>
<rect x="306" y="410.9" width="1" height="53.1" fill="#ff4d4d" fill-opacity="0.72"/>
<rect x="304" y="415.9" width="5" height="48.1" fill="#ff4d4d"/>
<rect x="313" y="410.9" width="1" height="70.1" fill="#26996c" fill-opacity="0.72"/>
<rect x="311" y="410.9" width="5" height="70.1" fill="#26996c"/>
<rect x="319" y="423.9" width="1" height="61.8" fill="#ff4d4d" fill-opacity="0.72"/>
<rect x="317" y="423.9" width="5" height="22.1" fill="#ff4d4d"/>
<rect x="326" y="419.7" width="1" height="26.3" fill="#26996c" fill-opacity="0.72"/>
<rect x="324" y="419.7" width="5" height="26.3" fill="#26996c"/>
<rect x="333" y="415.9" width="1" height="56.7" fill="#26996c" fill-opacity="0.72"/>
<rect x="331" y="415.9" width="5" height="13.0" fill="#26996c"/>
<rect x="340" y="406.7" width="1" height="40.1" fill="#26996c" fill-opacity="0.72"/>
<rect x="347" y="398.0" width="1" height="31.7" fill="#ff4d4d" fill-opacity="0.72"/>
<rect x="345" y="415.9" width="5" height="4.2" fill="#ff4d4d"/>
<rect x="353" y="407.5" width="1" height="52.3" fill="#26996c" fill-opacity="0.72"/>
<rect x="351" y="407.5" width="5" height="12.2" fill="#26996c"/>
<rect x="360" y="420.1" width="1" height="39.7" fill="#ff4d4d" fill-opacity="0.72"/>
<rect x="358" y="420.1" width="5" height="8.8" fill="#ff4d4d"/>
<rect x="367" y="406.7" width="1" height="58.1" fill="#ff4d4d" fill-opacity="0.72"/>
<rect x="365" y="437.1" width="5" height="13.5" fill="#ff4d4d"/>
<rect x="374" y="446.3" width="1" height="48.4" fill="#ff4d4d" fill-opacity="0.72"/>
<rect x="372" y="446.3" width="5" height="38.4" fill="#ff4d4d"/>
<rect x="380" y="459.3" width="1" height="35.4" fill="#26996c" fill-opacity="0.72"/>
<rect x="378" y="468.0" width="5" height="8.7" fill="#26996c"/>
<rect x="387" y="446.3" width="1" height="48.4" fill="#26996c" fill-opacity="0.72"/>
<rect x="394" y="415.9" width="1" height="91.7" fill="#ff4d4d" fill-opacity="0.72"/>
<rect x="392" y="455.1" width="5" height="8.4" fill="#ff4d4d"/>
<rect x="401" y="442.1" width="1" height="26.4" fill="#ff4d4d" fill-opacity="0.72"/>
<rect x="399" y="442.1" width="5" height="16.4" fill="#ff4d4d"/>
<rect x="407" y="446.2" width="1" height="12.3" fill="#ff4d4d" fill-opacity="0.72"/>
<rect x="405" y="446.2" width="5" height="12.3" fill="#ff4d4d"/>
<rect x="414" y="458.8" width="1" height="53.0" fill="#ff4d4d" fill-opacity="0.72"/>
<rect x="412" y="458.8" width="5" height="53.0" fill="#ff4d4d"/>
<rect x="421" y="451.0" width="1" height="20.7" fill="#26996c" fill-opacity="0.72"/>
<rect x="419" y="451.0" width="5" height="20.7" fill="#26996c"/>
<rect x="428" y="451.0" width="1" height="60.8" fill="#ff4d4d" fill-opacity="0.72"/>
<rect x="426" y="451.0" width="5" height="60.8" fill="#ff4d4d"/>
<rect x="434" y="472.3" width="1" height="8.6" fill="#ff4d4d" fill-opacity="0.72"/>
<rect x="432" y="472.3" width="5" height="8.6" fill="#ff4d4d"/>
<rect x="448" y="464.2" width="1" height="39.5" fill="#26996c" fill-opacity="0.72"/>
<rect x="446" y="472.3" width="5" height="8.6" fill="#26996c"/>
<rect x="455" y="480.9" width="1" height="9.2" fill="#26996c" fill-opacity="0.72"/>
<rect x="453" y="480.9" width="5" height="9.2" fill="#26996c"/>
<rect x="462" y="472.3" width="1" height="17.8" fill="#ff4d4d" fill-opacity="0.72"/>
<rect x="460" y="472.3" width="5" height="17.8" fill="#ff4d4d"/>
<rect x="468" y="490.1" width="1" height="22.5" fill="#26996c" fill-opacity="0.72"/>
<rect x="482" y="490.1" width="1" height="22.5" fill="#26996c" fill-opacity="0.72"/>
<rect x="480" y="494.2" width="5" height="12.5" fill="#26996c"/>
<rect x="489" y="480.9" width="1" height="25.8" fill="#26996c" fill-opacity="0.72"/>
<rect x="487" y="494.2" width="5" height="12.5" fill="#26996c"/>
<rect x="495" y="480.9" width="1" height="26.7" fill="#ff4d4d" fill-opacity="0.72"/>
<rect x="493" y="480.9" width="5" height="3.8" fill="#ff4d4d"/>
<rect x="502" y="485.0" width="1" height="21.7" fill="#26996c" fill-opacity="0.72"/>
<rect x="500" y="485.0" width="5" height="21.7" fill="#26996c"/>
<rect x="509" y="476.7" width="1" height="35.9" fill="#26996c" fill-opacity="0.72"/>
<rect x="507" y="485.0" width="5" height="21.7" fill="#26996c"/>
<rect x="516" y="472.3" width="1" height="43.6" fill="#ff4d4d" fill-opacity="0.72"/>
<rect x="514" y="472.3" width="5" height="43.6" fill="#ff4d4d"/>
<rect x="522" y="498.1" width="1" height="31.7" fill="#26996c" fill-opacity="0.72"/>
<rect x="520" y="507.1" width="5" height="12.7" fill="#26996c"/>
<rect x="529" y="498.1" width="1" height="57.1" fill="#26996c" fill-opacity="0.72"/>
<rect x="527" y="498.1" width="5" height="17.8" fill="#26996c"/>
<rect x="536" y="433.1" width="1" height="57.0" fill="#26996c" fill-opacity="0.72"/>
<rect x="534" y="446.0" width="5" height="44.1" fill="#26996c"/>
<rect x="543" y="381.4" width="1" height="77.1" fill="#26996c" fill-opacity="0.72"/>
<rect x="541" y="437.1" width="5" height="21.4" fill="#26996c"/>
<rect x="549" y="385.4" width="1" height="61.1" fill="#26996c" fill-opacity="0.72"/>
<rect x="547" y="420.0" width="5" height="8.8" fill="#26996c"/>
<rect x="556" y="394.5" width="1" height="25.3" fill="#26996c" fill-opacity="0.72"/>
<rect x="554" y="398.0" width="5" height="21.8" fill="#26996c"/>
<rect x="563" y="385.0" width="1" height="26.4" fill="#ff4d4d" fill-opacity="0.72"/>
<rect x="561" y="385.0" width="5" height="12.6" fill="#ff4d4d"/>
<rect x="570" y="394.2" width="1" height="25.6" fill="#ff4d4d" fill-opacity="0.72"/>
<rect x="568" y="410.9" width="5" height="8.9" fill="#ff4d4d"/>
<rect x="577" y="376.4" width="1" height="65.7" fill="#ff4d4d" fill-opacity="0.72"/>
<rect x="575" y="410.9" width="5" height="31.2" fill="#ff4d4d"/>
<rect x="583" y="424.3" width="1" height="27.2" fill="#26996c" fill-opacity="0.72"/>
<rect x="581" y="424.3" width="5" height="8.3" fill="#26996c"/>
<rect x="590" y="407.6" width="1" height="16.2" fill="#ff4d4d" fill-opacity="0.72"/>
<rect x="588" y="415.9" width="5" height="7.9" fill="#ff4d4d"/>
<rect x="597" y="415.9" width="1" height="8.4" fill="#26996c" fill-opacity="0.72"/>
<rect x="595" y="420.1" width="5" height="4.2" fill="#26996c"/>
<rect x="604" y="407.6" width="1" height="8.8" fill="#26996c" fill-opacity="0.72"/>
<rect x="610" y="407.6" width="1" height="16.2" fill="#ff4d4d" fill-opacity="0.72"/>
<rect x="608" y="420.1" width="5" height="3.7" fill="#ff4d4d"/>
<rect x="617" y="394.2" width="1" height="30.1" fill="#26996c" fill-opacity="0.72"/>
<rect x="615" y="415.9" width="5" height="8.4" fill="#26996c"/>
<rect x="631" y="398.0" width="1" height="25.8" fill="#26996c" fill-opacity="0.72"/>
<rect x="629" y="398.0" width="5" height="25.8" fill="#26996c"/>
<rect x="637" y="407.1" width="1" height="17.2" fill="#ff4d4d" fill-opacity="0.72"/>
<rect x="635" y="407.1" width="5" height="12.7" fill="#ff4d4d"/>
<rect x="644" y="420.1" width="1" height="3.7" fill="#26996c" fill-opacity="0.72"/>
<rect x="642" y="420.1" width="5" height="3.7" fill="#26996c"/>
<rect x="651" y="407.6" width="1" height="12.5" fill="#26996c" fill-opacity="0.72"/>
<rect x="664" y="407.1" width="1" height="39.4" fill="#ff4d4d" fill-opacity="0.72"/>
<rect x="662" y="407.1" width="5" height="25.5" fill="#ff4d4d"/>
<rect x="671" y="407.1" width="1" height="63.9" fill="#ff4d4d" fill-opacity="0.72"/>
<rect x="669" y="407.1" width="5" height="8.8" fill="#ff4d4d"/>
<rect x="678" y="363.1" width="1" height="61.2" fill="#26996c" fill-opacity="0.72"/>
<rect x="676" y="363.1" width="5" height="61.2" fill="#26996c"/>
<rect x="685" y="211.5" width="1" height="151.1" fill="#26996c" fill-opacity="0.72"/>
<rect x="683" y="259.2" width="5" height="103.4" fill="#26996c"/>
<rect x="692" y="202.1" width="1" height="105.5" fill="#ff4d4d" fill-opacity="0.72"/>
<rect x="690" y="241.3" width="5" height="34.1" fill="#ff4d4d"/>
<rect x="698" y="163.4" width="1" height="130.9" fill="#26996c" fill-opacity="0.72"/>
<rect x="696" y="185.1" width="5" height="81.3" fill="#26996c"/>
<rect x="705" y="163.0" width="1" height="74.7" fill="#ff4d4d" fill-opacity="0.72"/>
<rect x="703" y="163.0" width="5" height="73.8" fill="#ff4d4d"/>
<rect x="712" y="215.5" width="1" height="122.0" fill="#ff4d4d" fill-opacity="0.72"/>
<rect x="710" y="228.1" width="5" height="99.4" fill="#ff4d4d"/>
<rect x="719" y="224.3" width="1" height="113.2" fill="#26996c" fill-opacity="0.72"/>
<rect x="717" y="263.0" width="5" height="69.5" fill="#26996c"/>
<rect x="725" y="272.1" width="1" height="43.0" fill="#ff4d4d" fill-opacity="0.72"/>
<rect x="723" y="272.1" width="5" height="43.0" fill="#ff4d4d"/>
<rect x="732" y="215.5" width="1" height="73.8" fill="#26996c" fill-opacity="0.72"/>
<rect x="730" y="220.1" width="5" height="69.2" fill="#26996c"/>
<rect x="739" y="193.4" width="1" height="53.3" fill="#ff4d4d" fill-opacity="0.72"/>
<rect x="737" y="193.4" width="5" height="21.4" fill="#ff4d4d"/>
<rect x="746" y="228.1" width="1" height="109.4" fill="#ff4d4d" fill-opacity="0.72"/>
<rect x="744" y="228.1" width="5" height="43.6" fill="#ff4d4d"/>
<rect x="752" y="254.2" width="1" height="26.7" fill="#26996c" fill-opacity="0.72"/>
<rect x="750" y="272.1" width="5" height="8.8" fill="#26996c"/>
<rect x="759" y="246.2" width="1" height="48.1" fill="#26996c" fill-opacity="0.72"/>
<rect x="757" y="246.2" width="5" height="25.5" fill="#26996c"/>
<rect x="766" y="254.2" width="1" height="35.1" fill="#ff4d4d" fill-opacity="0.72"/>
<rect x="764" y="254.2" width="5" height="35.1" fill="#ff4d4d"/>
<rect x="773" y="272.1" width="1" height="43.9" fill="#ff4d4d" fill-opacity="0.72"/>
<rect x="771" y="272.1" width="5" height="16.7" fill="#ff4d4d"/>
<rect x="779" y="293.9" width="1" height="65.8" fill="#ff4d4d" fill-opacity="0.72"/>
<rect x="777" y="293.9" width="5" height="60.8" fill="#ff4d4d"/>
<rect x="786" y="341.7" width="1" height="18.0" fill="#26996c" fill-opacity="0.72"/>
<rect x="784" y="341.7" width="5" height="13.0" fill="#26996c"/>
<rect x="793" y="333.4" width="1" height="34.7" fill="#26996c" fill-opacity="0.72"/>
<rect x="800" y="311.2" width="1" height="31.4" fill="#26996c" fill-opacity="0.72"/>
<rect x="798" y="320.5" width="5" height="7.2" fill="#26996c"/>
<rect x="807" y="315.1" width="1" height="22.4" fill="#26996c" fill-opacity="0.72"/>
<rect x="805" y="315.1" width="5" height="12.6" fill="#26996c"/>
<rect x="813" y="307.2" width="1" height="8.4" fill="#26996c" fill-opacity="0.72"/>
<rect x="820" y="320.7" width="1" height="12.9" fill="#26996c" fill-opacity="0.72"/>
<rect x="827" y="307.2" width="1" height="35.4" fill="#26996c" fill-opacity="0.72"/>
<rect x="834" y="311.2" width="1" height="25.6" fill="#ff4d4d" fill-opacity="0.72"/>
<rect x="832" y="311.2" width="5" height="25.6" fill="#ff4d4d"/>
<rect x="840" y="333.1" width="1" height="3.7" fill="#ff4d4d" fill-opacity="0.72"/>
<rect x="838" y="333.1" width="5" height="3.7" fill="#ff4d4d"/>
<rect x="847" y="328.3" width="1" height="18.0" fill="#ff4d4d" fill-opacity="0.72"/>
<rect x="845" y="328.3" width="5" height="8.5" fill="#ff4d4d"/>
<rect x="854" y="337.0" width="1" height="26.1" fill="#26996c" fill-opacity="0.72"/>
<rect x="852" y="341.9" width="5" height="21.2" fill="#26996c"/>
<rect x="861" y="341.9" width="1" height="16.8" fill="#ff4d4d" fill-opacity="0.72"/>
<rect x="859" y="346.0" width="5" height="12.7" fill="#ff4d4d"/>
<rect x="867" y="359.0" width="1" height="3.8" fill="#ff4d4d" fill-opacity="0.72"/>
<rect x="865" y="359.0" width="5" height="3.8" fill="#ff4d4d"/>
<text x="4.8" y="190.5" font-family="'Liberation Sans', Arial, sans-serif" font-size="10.5" fill="#222">3,0800</text>
<rect x="2.5" y="306.3" width="80" height="14.5" fill="#ff5252"/>
<text x="4.9" y="317.6" font-family="'Liberation Sans', Arial, sans-serif" font-size="10.6" fill="#fff" textLength="31.3" lengthAdjust="spacingAndGlyphs">2,7900</text>
<text x="43.3" y="317.6" font-family="'Liberation Sans', Arial, sans-serif" font-size="10.6" fill="#fff" textLength="29.1" lengthAdjust="spacingAndGlyphs">3,71%</text>
<rect x="2.5" y="354.3" width="80" height="14.2" fill="#26996c"/>
<text x="4.8" y="365.5" font-family="'Liberation Sans', Arial, sans-serif" font-size="10.6" fill="#fff" textLength="31.4" lengthAdjust="spacingAndGlyphs">2,6800</text>
<text x="42.9" y="365.5" font-family="'Liberation Sans', Arial, sans-serif" font-size="10.6" fill="#fff" textLength="33" lengthAdjust="spacingAndGlyphs">-0,37%</text>
<rect x="2.5" y="411.4" width="40" height="13.6" fill="#fff"/>
<text x="4.7" y="421.6" font-family="'Liberation Sans', Arial, sans-serif" font-size="10.5" fill="#222">2,5500</text>
<rect x="2.5" y="458.2" width="40" height="13.6" fill="#fff"/>
<text x="4.7" y="469.7" font-family="'Liberation Sans', Arial, sans-serif" font-size="10.5" fill="#222">2,4400</text>
<text x="4.7" y="553" font-family="'Liberation Sans', Arial, sans-serif" font-size="10.5" fill="#222">2,2500</text>
<polyline points="2.5,432.3 16.7,434.3 33.4,436.8 50.1,438.4 66.8,439.3 86.8,441.5 100.2,442.6 116.9,442.6 133.6,441.8 150.3,440.1 170.0,437.0 190.0,433.5 210.0,430.0 230.0,426.0 250.0,420.0 270.0,413.5 290.0,409.0 310.0,404.5 320.0,404.5 340.0,405.5 355.0,407.0 370.0,410.0 385.0,416.0 400.0,423.0 420.0,432.0 435.0,438.0 450.0,442.0 475.0,449.0 500.0,452.5 520.0,455.0 530.0,455.9 546.7,455.1 563.4,453.1 580.1,450.9 596.8,449.8 613.5,449.3 636.9,447.7 646.9,448.7 663.6,450.1 675.2,450.1 690.0,449.3 711.9,444.3 730.0,435.9 752.4,428.5 767.3,422.7 784.7,417.3 792.2,417.3 804.6,414.3 827.0,411.0 837.0,408.6 866.8,404.3" fill="none" stroke="rgb(100,188,242)" stroke-opacity="0.62" stroke-width="1.2"/>
<line x1="2" y1="193.5" x2="895" y2="193.5" stroke="#ff4a4a" stroke-width="1.1" stroke-dasharray="4 5"/>
<line x1="82" y1="320.5" x2="895" y2="320.5" stroke="#ff5252" stroke-width="1"/>
<line x1="82" y1="368.3" x2="895" y2="368.3" stroke="#2a9d6f" stroke-width="1.2"/>
<line x1="2" y1="424.5" x2="895" y2="424.5" stroke="#1f9a6a" stroke-width="1.1" stroke-dasharray="4 5"/>
<line x1="2" y1="472.5" x2="895" y2="472.5" stroke="#1f9a6a" stroke-width="1.1" stroke-dasharray="4 5"/>
<line x1="2" y1="555.5" x2="895" y2="555.5" stroke="#1f9a6a" stroke-width="1.1" stroke-dasharray="4 5"/>
<line x1="530" y1="554.7" x2="888.8" y2="345.2" stroke="#111" stroke-width="1.3"/>
<circle cx="529.5" cy="554" r="12.2" fill="none" stroke="#555" stroke-width="1.3"/>
<circle cx="888" cy="345" r="12.3" fill="none" stroke="#555" stroke-width="1.3"/>
<line x1="895.5" y1="133.5" x2="895.5" y2="584.5" stroke="#333" stroke-width="1.2"/>
<line x1="2.5" y1="584.3" x2="895.5" y2="584.3" stroke="#333" stroke-width="1.3"/>
<text x="897.3" y="161.8" font-family="'Liberation Sans', Arial, sans-serif" font-size="10.3" font-weight="bold" fill="#111">3,1500</text>
<text x="897.4" y="171.7" font-family="'Liberation Sans', Arial, sans-serif" font-size="10.3" font-weight="bold" fill="#26996c">16,66%</text>
<text x="897.3" y="217.8" font-family="'Liberation Sans', Arial, sans-serif" font-size="10.7" fill="#111">3,0214</text>
<text x="897.4" y="227.7" font-family="'Liberation Sans', Arial, sans-serif" font-size="10.7" fill="#26996c">11,90%</text>
<text x="897.3" y="273.8" font-family="'Liberation Sans', Arial, sans-serif" font-size="10.7" fill="#111">2,8929</text>
<text x="897.4" y="283.7" font-family="'Liberation Sans', Arial, sans-serif" font-size="10.7" fill="#26996c">7,14%</text>
<text x="897.3" y="329.8" font-family="'Liberation Sans', Arial, sans-serif" font-size="10.7" fill="#111">2,7644</text>
<text x="897.4" y="339.7" font-family="'Liberation Sans', Arial, sans-serif" font-size="10.7" fill="#26996c">2,38%</text>
<text x="897.3" y="385.8" font-family="'Liberation Sans', Arial, sans-serif" font-size="10.7" fill="#111">2,6359</text>
<text x="897.4" y="395.7" font-family="'Liberation Sans', Arial, sans-serif" font-size="10.7" fill="#ff4d4d">-2,37%</text>
<text x="897.3" y="441.8" font-family="'Liberation Sans', Arial, sans-serif" font-size="10.7" fill="#111">2,5074</text>
<text x="897.4" y="451.7" font-family="'Liberation Sans', Arial, sans-serif" font-size="10.7" fill="#ff4d4d">-7,13%</text>
<text x="897.3" y="497.8" font-family="'Liberation Sans', Arial, sans-serif" font-size="10.7" fill="#111">2,3789</text>
<text x="897.4" y="507.7" font-family="'Liberation Sans', Arial, sans-serif" font-size="10.7" fill="#ff4d4d">-11,89%</text>
<text x="897.3" y="553.8" font-family="'Liberation Sans', Arial, sans-serif" font-size="10.3" font-weight="bold" fill="#111">2,2500</text>
<text x="897.4" y="563.7" font-family="'Liberation Sans', Arial, sans-serif" font-size="10.3" font-weight="bold" fill="#ff4d4d">-16,66%</text>
<rect x="894.7" y="357.1" width="46" height="14" fill="#ff5252"/>
<text x="897.4" y="368" font-family="'Liberation Sans', Arial, sans-serif" font-size="11" fill="#fff">2,6900</text>
<text x="22.2" y="597.9" font-family="'Liberation Sans', Arial, sans-serif" font-size="10.5" fill="#111">Ago</text>
<text x="164.3" y="597.9" font-family="'Liberation Sans', Arial, sans-serif" font-size="10.5" fill="#111">Sep</text>
<text x="312.3" y="597.9" font-family="'Liberation Sans', Arial, sans-serif" font-size="10.5" fill="#111">Oct</text>
<text x="467.6" y="597.9" font-family="'Liberation Sans', Arial, sans-serif" font-size="10.5" fill="#111">Nov</text>
<text x="603.7" y="597.9" font-family="'Liberation Sans', Arial, sans-serif" font-size="10.5" fill="#111">Dic</text>
<text x="739.9" y="597.9" font-family="'Liberation Sans', Arial, sans-serif" font-size="11.5" font-weight="bold" textLength="26.1" lengthAdjust="spacingAndGlyphs" fill="#111">2026</text>
<text x="4.7" y="130.9" font-family="'Liberation Sans', Arial, sans-serif" font-size="10.4" font-weight="bold" fill="#111" stroke="#111" stroke-width="0.25" textLength="77.4" lengthAdjust="spacingAndGlyphs">PCBOLSA.COM</text>
<text x="86.5" y="130.9" font-family="'Liberation Sans', Arial, sans-serif" font-size="10.4" font-weight="bold" fill="#111" stroke="#111" stroke-width="0.25" textLength="2.6" lengthAdjust="spacingAndGlyphs">-</text>
<text x="93.6" y="130.9" font-family="'Liberation Sans', Arial, sans-serif" font-size="10.4" font-weight="bold" fill="#111" stroke="#111" stroke-width="0.25" textLength="40.9" lengthAdjust="spacingAndGlyphs">ENERGY</text>
<text x="139" y="130.9" font-family="'Liberation Sans', Arial, sans-serif" font-size="10.4" font-weight="bold" fill="#111" stroke="#111" stroke-width="0.25" textLength="35.5" lengthAdjust="spacingAndGlyphs">SOLAR</text>
<text x="178.4" y="130.9" font-family="'Liberation Sans', Arial, sans-serif" font-size="10.4" font-weight="bold" fill="#111" stroke="#111" stroke-width="0.25" textLength="48" lengthAdjust="spacingAndGlyphs">Histórico</text>
<text x="230.5" y="130.9" font-family="'Liberation Sans', Arial, sans-serif" font-size="10.4" font-weight="bold" fill="#111" stroke="#111" stroke-width="0.25" textLength="32.9" lengthAdjust="spacingAndGlyphs">Lineal</text>
<text x="266.3" y="130.9" font-family="'Liberation Sans', Arial, sans-serif" font-size="10.4" font-weight="bold" fill="#111" stroke="#111" stroke-width="0.25" textLength="47.5" lengthAdjust="spacingAndGlyphs">Ajustado</text>
<text x="317.9" y="130.9" font-family="'Liberation Sans', Arial, sans-serif" font-size="10.4" font-weight="bold" fill="#111" stroke="#111" stroke-width="0.25" textLength="5.3" lengthAdjust="spacingAndGlyphs">a</text>
<text x="327.8" y="130.9" font-family="'Liberation Sans', Arial, sans-serif" font-size="10.4" font-weight="bold" fill="#111" stroke="#111" stroke-width="0.25" textLength="53" lengthAdjust="spacingAndGlyphs">Dividenos</text>
<text x="384.4" y="130.9" font-family="'Liberation Sans', Arial, sans-serif" font-size="10.4" font-weight="bold" fill="#111" stroke="#111" stroke-width="0.25" textLength="52.2" lengthAdjust="spacingAndGlyphs">27/7/2025</text>
<text x="440.8" y="130.9" font-family="'Liberation Sans', Arial, sans-serif" font-size="10.4" font-weight="bold" fill="#111" stroke="#111" stroke-width="0.25" textLength="2.6" lengthAdjust="spacingAndGlyphs">-</text>
<text x="446.8" y="130.9" font-family="'Liberation Sans', Arial, sans-serif" font-size="10.4" font-weight="bold" fill="#111" stroke="#111" stroke-width="0.25" textLength="52.2" lengthAdjust="spacingAndGlyphs">27/1/2026</text>
<text x="502.6" y="130.9" font-family="'Liberation Sans', Arial, sans-serif" font-size="10.4" font-weight="bold" fill="#111" stroke="#111" stroke-width="0.25" textLength="1.8" lengthAdjust="spacingAndGlyphs">,</text>
<text x="508.4" y="130.9" font-family="'Liberation Sans', Arial, sans-serif" font-size="10.4" font-weight="bold" fill="#111" stroke="#111" stroke-width="0.25" textLength="37.3" lengthAdjust="spacingAndGlyphs">9:57:49</text>
<text x="549.8" y="130.9" font-family="'Liberation Sans', Arial, sans-serif" font-size="10.4" font-weight="bold" fill="#111" stroke="#111" stroke-width="0.25" textLength="34.5" lengthAdjust="spacingAndGlyphs">Renta:</text>
<text x="587.9" y="130.9" font-family="'Liberation Sans', Arial, sans-serif" font-size="10.4" font-weight="bold" fill="#111" stroke="#111" stroke-width="0.25" textLength="30.8" lengthAdjust="spacingAndGlyphs">2,67%</text>
<text x="19.2" y="147" font-family="'Liberation Sans', Arial, sans-serif" font-size="10.5" font-weight="bold" fill="#8ccbf3" textLength="50.8" lengthAdjust="spacingAndGlyphs">SMA (100)</text>
<text x="74.7" y="147" font-family="'Liberation Sans', Arial, sans-serif" font-size="10.5" font-weight="bold" fill="#d9d9d9" textLength="49.9" lengthAdjust="spacingAndGlyphs">BOLL (20)</text>
</svg>
</body></html>
